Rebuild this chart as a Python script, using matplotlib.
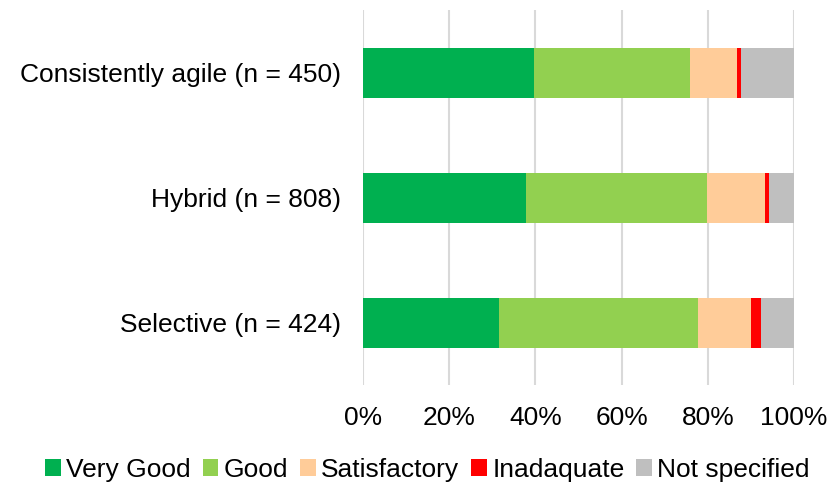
import matplotlib.pyplot as plt
import numpy as np

plt.rcParams['font.family'] = ['Liberation Sans', 'DejaVu Sans']

groups = ['Consistently agile (n = 450)', 'Hybrid (n = 808)', 'Selective (n = 424)']
ratings = ['Very Good', 'Good', 'Satisfactory', 'Inadaquate', 'Not specified']
colors = ['#00B050', '#92D050', '#FFCC99', '#FF0000', '#BFBFBF']

very_good = [39.6, 37.9, 31.6]
good = [36.3, 41.9, 46.1]
satisfactory = [10.8, 13.5, 12.4]
inadequate = [0.9, 0.8, 2.3]
not_specified = [12.4, 5.9, 7.6]

series = [very_good, good, satisfactory, inadequate, not_specified]

fig = plt.figure(figsize=(8.3, 4.84), dpi=100)
ax = fig.add_axes([0.4373, 0.2045, 0.5193, 0.7745])

y = np.arange(len(groups))
left = np.zeros(len(groups))
for vals, name, c in zip(series, ratings, colors):
    ax.barh(y, vals, left=left, height=0.4, color=c, label=name, zorder=3)
    left += np.array(vals)

ax.set_ylim(2.5, -0.5)
ax.set_xlim(0, 100)
ax.set_yticks(y)
ax.set_yticklabels(groups, fontsize=19)
ax.set_xticks(np.arange(0, 101, 20))
ax.set_xticklabels(['{}%'.format(v) for v in range(0, 101, 20)], fontsize=19)
ax.tick_params(length=0)
ax.tick_params(axis='x', pad=15)
ax.tick_params(axis='y', pad=16)
ax.grid(axis='x', color='#D9D9D9', linewidth=1.5, zorder=0)
for s in ax.spines.values():
    s.set_visible(False)

fig.legend(loc='lower center', bbox_to_anchor=(0.515, -0.045), ncol=5, frameon=False,
           fontsize=19, handlelength=0.6, handleheight=0.6, handletextpad=0.2,
           columnspacing=0.45)

fig.savefig('out.png', dpi=100)
